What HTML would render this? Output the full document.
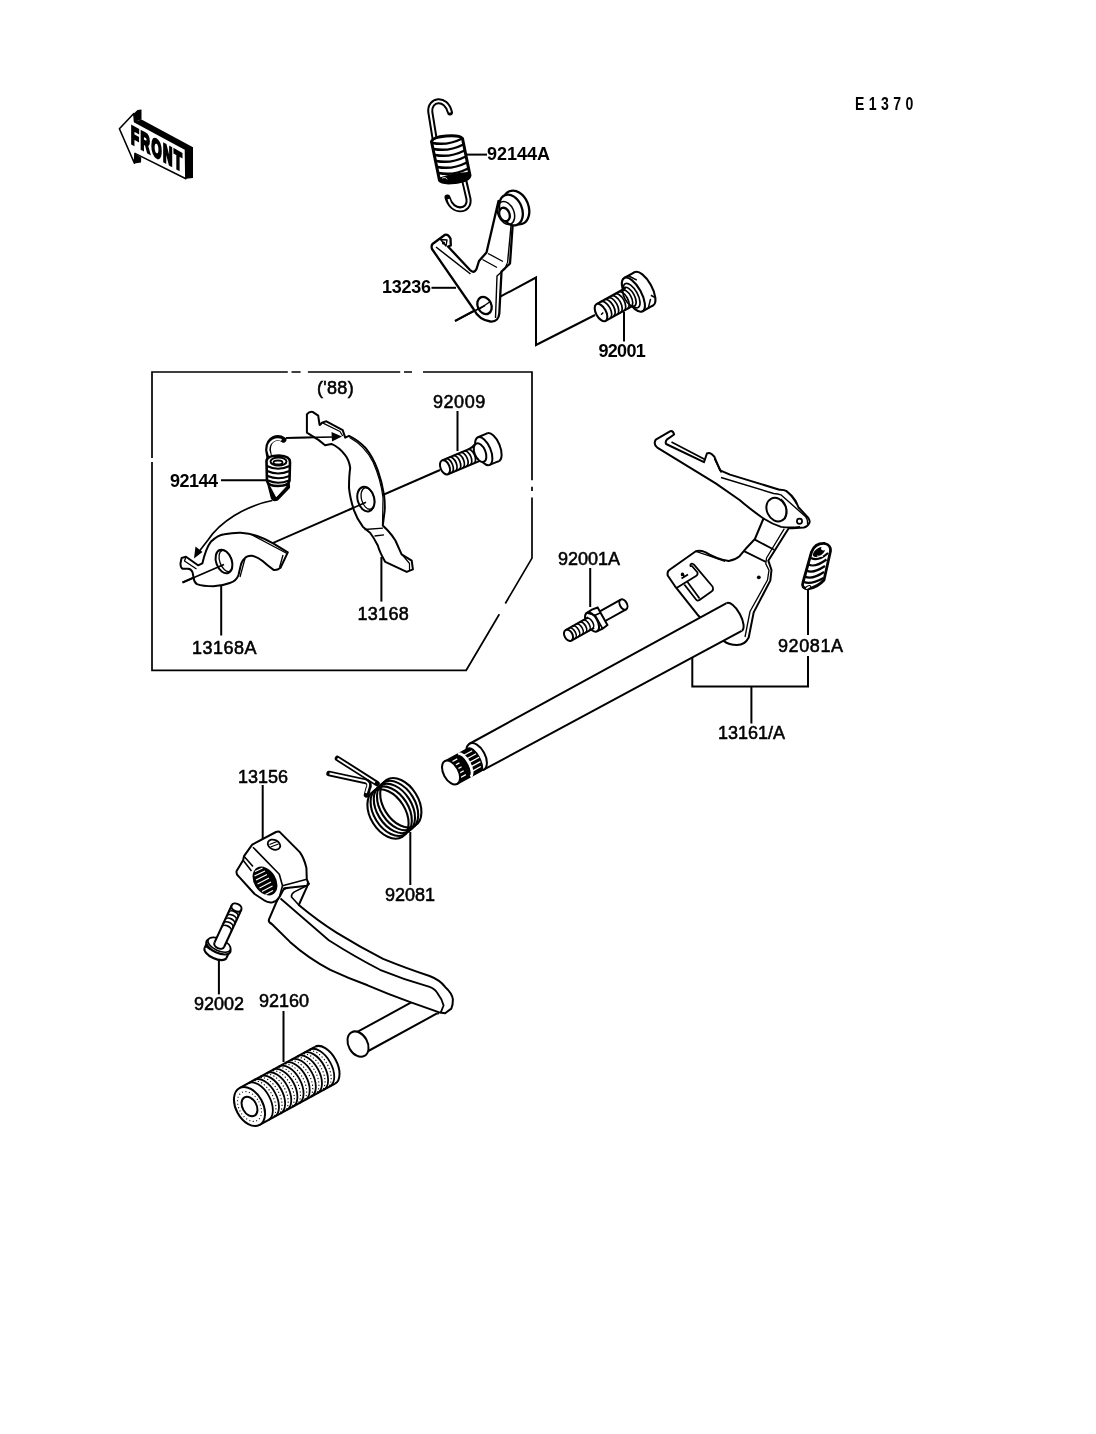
<!DOCTYPE html>
<html><head><meta charset="utf-8">
<style>
html,body{margin:0;padding:0;background:#fff;}
body{width:1096px;height:1434px;overflow:hidden;position:relative;}
svg{position:absolute;left:0;top:0;will-change:transform;}
.t{font-family:"Liberation Sans",sans-serif;font-size:18px;fill:#000;stroke:#000;stroke-width:0.55px;}
.b{font-weight:bold;stroke-width:0;}
</style></head><body>
<svg width="1096" height="1434" viewBox="0 0 1096 1434">

<g id="box" fill="none" stroke="#000" stroke-width="1.7">
<path d="M152 462V670.3H466.2L499.3 614.3M505.3 603.5L532 558.1V497.6M532 491V486.8M532 480.3V372H423M412 372H404M400.2 372H307.9M300.6 372H291.5M287.8 372H152V458"/>
</g>
<g id="leaders" fill="none" stroke="#000" stroke-width="2">
<path d="M466 154.6H487"/>
<path d="M431.5 287.8H456"/>
<path d="M624 312V341.5"/>
<path d="M455 321L536 277.5V345L595 315"/>
<path d="M457.5 411V451"/>
<path d="M221 480.3H266"/>
<path d="M381.4 557V601.6"/>
<path d="M221.2 586V635.5"/>
<path d="M182.5 582.5L440 470"/>
<path d="M590.2 568V607"/>
<path d="M808 590V635M808 656V686.5H692.3V657M751.4 686.5V723.4"/>
<path d="M262.7 785V839"/>
<path d="M410.3 832V885"/>
<path d="M218.9 958.7V994.4"/>
<path d="M283.5 1011V1062"/>
</g>
<g id="front">
<path d="M133.8 113.5L137.5 110L141.5 109.4V119.6L134.6 121.8Z" fill="#000"/>
<path d="M134.6 121.8L141.5 119.6L193 147.2V178L185.9 178.8L185.5 149.3Z" fill="#000"/>
<path d="M134.6 153.2L141.2 157.5L141 162.4L134.4 163.4Z" fill="#000"/>
<path d="M119.4 128.7L133.8 113.5L134.6 121.8L185.5 149.3L185.9 178.8L135 153.4L134.4 163.2Z" fill="#fff" stroke="#000" stroke-width="1.6" stroke-linejoin="round"/>
<text transform="translate(131,143) skewY(29) scale(0.52,1)" style="font-family:'Liberation Sans',sans-serif;font-weight:bold;font-size:25px;fill:#000;stroke:#000;stroke-width:2.8px;letter-spacing:3px">FRONT</text>
</g>
<g id="spring1" fill="none" stroke-linecap="round">
<path d="M434.5 138L430.3 112C429 99 446 96 450 112.5" stroke="#000" stroke-width="6"/>
<path d="M434.5 138L430.3 112C429 99 446 96 450 112.5" stroke="#fff" stroke-width="2" stroke-linecap="butt"/>
<path d="M462.8 174L468.5 199C470.5 212 452 214 447.5 197.5" stroke="#000" stroke-width="6"/>
<path d="M464 180L468.5 199C470.5 212 452 214 448.5 199" stroke="#fff" stroke-width="2" stroke-linecap="butt"/>
<path d="M431.5 141.5Q433 137 446 136Q460 135 462.5 138.5L470 175.5Q469 181 455 182.5Q442 184 439.5 180.5Z" fill="#fff" stroke="#000" stroke-width="3" stroke-linejoin="round"/>
<g stroke="#000" stroke-width="2.5">
<path d="M432.3 143.0Q447.3 146.0 462.3 138.5"/>
<path d="M433.6 149.0Q448.5 152.0 463.4 144.5"/>
<path d="M434.8 155.0Q449.7 158.0 464.6 150.5"/>
<path d="M436.1 161.0Q450.9 164.0 465.8 156.5"/>
<path d="M437.3 167.0Q452.1 170.0 466.9 162.5"/>
<path d="M438.6 173.0Q453.3 176.0 468.1 168.5"/>
</g>
<path d="M440 178.5Q452 174 468 173L469.5 177Q466 182 455 182.5Q443 184 440 180Z" fill="#000" stroke="#000" stroke-width="2"/>
<path d="M442.5 178Q446 176.5 447 179" stroke="#fff" stroke-width="0.9"/>
</g>
<g id="bracket" fill="#fff" stroke="#000" stroke-width="2.3" stroke-linejoin="round">
<path d="M432.5 244L445 234.8Q448 234 450.5 238.5L450.8 245.5L448 246.5L470 270Q474 274 476.5 269L479 261L486.5 252.5L498.5 201L512.6 226L510 263.5L501.5 271.5L499.3 313.5Q498.5 322 490.5 321.5Q479 320 473.5 309L432 249Q431 246 432.5 244Z"/>
<path d="M436 247L470.5 274" fill="none" stroke-width="1.5"/>
<path d="M440.5 239.5L447 240L446 246Z" fill="#fff" stroke-width="1.4"/>
<circle cx="443.5" cy="243" r="1.6" fill="#000" stroke="none"/>
<ellipse cx="516" cy="207.5" rx="12.5" ry="17.5" transform="rotate(-22 516 207.5)"/>
<ellipse cx="511" cy="210" rx="11" ry="16" transform="rotate(-22 511 210)"/>
<ellipse cx="506" cy="213" rx="8" ry="12" transform="rotate(-22 506 213)" fill="none" stroke-width="1.5"/>
<ellipse cx="504.5" cy="214.5" rx="5" ry="7" transform="rotate(-22 504.5 214.5)"/>
<path d="M507 263.5L505.3 268.5L497 276L495.5 318" fill="none" stroke-width="1.4"/>
<path d="M511 226L507.5 263.5" fill="none" stroke-width="1.4"/>
<path d="M482.5 259.5L497 267.5M488 253.5L503 261.5" fill="none" stroke-width="1.4"/>
<ellipse cx="484.5" cy="305.5" rx="6.8" ry="9" transform="rotate(-25 484.5 305.5)"/>
<path d="M478 310L491 301" fill="none" stroke-width="1.4"/>
</g>
<g id="bolt1" transform="translate(601 312.5) rotate(-28.9)" fill="#fff" stroke="#000" stroke-width="2.1">
<ellipse cx="49" cy="0" rx="8" ry="19"/>
<path d="M37 -19H49V19H37Z" stroke="none"/>
<path d="M37 -19H49M37 19H49" fill="none"/>
<ellipse cx="37" cy="0" rx="8" ry="19"/>
<ellipse cx="35" cy="0" rx="6" ry="13.5" fill="none" stroke-width="1.7"/>
<path d="M0 -9.5H33V9.5H0Z" stroke="none"/>
<path d="M0 -9.5H33.5M0 9.5H31" fill="none"/>
<ellipse cx="32.5" cy="0" rx="5" ry="10.5" fill="none" stroke-width="1.7"/>
<g fill="none" stroke-width="1.7">
<path d="M5 -9.5A5 9.5 0 0 1 5 9.5M9 -9.5A5 9.5 0 0 1 9 9.5M13 -9.5A5 9.5 0 0 1 13 9.5M17 -9.5A5 9.5 0 0 1 17 9.5M21 -9.5A5 9.5 0 0 1 21 9.5M25 -9.5A5 9.5 0 0 1 25 9.5M29 -9.5A5 9.5 0 0 1 29 9.5"/>
</g>
<ellipse cx="0" cy="0" rx="5" ry="9.5"/>
<path d="M-1 2L2 1" fill="none" stroke-width="1.4"/>
<path d="M42 -18.5L47 -11M52 9L55 14M44 18.5L50 12" fill="none" stroke-width="1.5"/>
</g>

<g id="boxparts">
<g id="arrows" fill="none" stroke="#000" stroke-width="1.7">
<path d="M286 437.8L334 437"/>
<path d="M272.3 500.5C245 506 220 522 208 540Q201 549 198 553"/>
</g>
<path d="M342 436.6L331.5 432L332 441.5Z" fill="#000"/>
<path d="M194 558.5L195.5 546.5L202.5 552Z" fill="#000"/>
<g id="spring2" fill="none" stroke-linecap="round">
<path d="M270.2 463L268 450C268 438 278 436 283.5 439.8" stroke="#000" stroke-width="5.8"/>
<path d="M270.6 458L268.3 450C268.5 440 277 438 281.5 440" stroke="#fff" stroke-width="2.1" stroke-linecap="butt"/>
<path d="M267 481L271.5 498.5Q273.5 502 277.5 500L289.5 487.5L289 480Z" fill="#000" stroke="#000" stroke-width="1.2" stroke-linejoin="round"/>
<path d="M270 485L276.3 496.8L285.8 486.5Z" fill="#fff" stroke="#fff" stroke-width="0.8" stroke-linejoin="round"/>
<path d="M266.5 461Q267 455.5 279 455.5Q290 456 290 462L289.5 481Q288 486 278 486Q268 486 267 481Z" fill="#fff" stroke="#000" stroke-width="2.6"/>
<g stroke="#000" stroke-width="2">
<path d="M267 466Q278 471.5 289.5 466"/>
<path d="M267.3 471Q278 476 289.5 471"/>
<path d="M267.6 476Q278 480.5 289.5 476"/>
<path d="M268 480.5Q278 485 289 480.5"/>
</g>
<ellipse cx="278.5" cy="461.5" rx="8" ry="4" stroke="#000" stroke-width="2"/>
<ellipse cx="278" cy="462.5" rx="4.5" ry="2" stroke="#000" stroke-width="1.8"/>
</g>
<g id="p13168A" fill="#fff" stroke="#000" stroke-width="2" stroke-linejoin="round">
<path d="M181.6 558L186 556.8L198 565.3L202.4 563.3Q206 548 211.1 541.4Q218 535 224.3 534.2Q233 532.5 240.7 532.7Q250 533.5 257.1 536Q266 539 273.6 543.6L287.8 552.4L280.5 567.7Q277 570.5 273.6 569.9Q268 566 262.6 561.1Q257 556.5 251.7 555.7Q247 555.5 245.1 557.9Q241.5 561 240.7 565.5L238.5 575Q236.5 581 229.8 583Q222 586 213.3 586.3Q203 586.3 196.9 584.1Q194 582 193.6 577.6L192.5 572.1Q191 569 188.1 568.8L182.7 568.8Q180.5 568 180.5 563.3Z"/>
<path d="M252 535L287 553.5M283 555L279.5 567.5M245 558.5L240 577" fill="none" stroke-width="1.3"/>
<path d="M186 556.8L184.5 561L196.5 569" fill="none" stroke-width="1.3"/>
<ellipse cx="224" cy="561.5" rx="7.8" ry="12.2" transform="rotate(-20 224 561.5)"/>
<ellipse cx="225.8" cy="561" rx="6" ry="11" transform="rotate(-20 225.8 561)" fill="none" stroke-width="1.3"/>
</g>
<g id="p13168" fill="#fff" stroke="#000" stroke-width="2" stroke-linejoin="round">
<path d="M306.9 414.4Q309 411.5 312.6 411.9L318.2 415.7L319.5 424.5Q320 426 322 422.6L326.4 421.3L342.7 430.1L345.2 437.6L349 435.8Q358 440 365.3 447.7Q373 457 377.8 470.3Q382 482 384.1 495.4Q385 503 384.7 510.4L382.8 525.5L387.8 530.5Q392 535 395.4 540.5L401.6 554.3L411.7 560.6L412.9 569.4L406.7 571.9L385.3 561.9Q380 553 377.8 545.5Q374 538 370.3 533L362.8 526.7Q357 519 354 510.4Q350 498 349 487.8Q349 476 350.2 467.8Q349 460 345.2 455.2Q339 447 331.4 443.9L325.1 445.2L318.8 440.1L306.9 432.6Z"/>
<path d="M349.5 437.5Q365 446 373 462Q381 480 383 498L382.5 525" fill="none" stroke-width="1.2"/>
<path d="M364.5 529.5L383 528.2M374.5 536L384 534.8" fill="none" stroke-width="1.3"/>
<path d="M402 554.5L409.5 563.5V570.5" fill="none" stroke-width="1.2"/>
<path d="M322 422.6L340 431.5L342.7 436" fill="none" stroke-width="1.2"/>
<ellipse cx="365.9" cy="499.1" rx="8.3" ry="12.5" transform="rotate(-15 365.9 499.1)"/>
<ellipse cx="367.8" cy="498.5" rx="6.3" ry="11" transform="rotate(-15 367.8 498.5)" fill="none" stroke-width="1.3"/>
</g>
<g id="bolt2" transform="translate(445 467.3) rotate(-22.7)" fill="#fff" stroke="#000" stroke-width="2">
<ellipse cx="52" cy="0" rx="7" ry="15"/>
<path d="M42 -15H52V15H42Z" stroke="none"/>
<path d="M42 -15H52M42 15H52" fill="none"/>
<ellipse cx="42" cy="0" rx="7" ry="15"/>
<path d="M0 -7.5H30L38 -9.5V9.5H0Z" stroke="none"/>
<path d="M0 -7.5H29Q33 -7.5 36 -9.5M0 7.5H36" fill="none"/>
<ellipse cx="38" cy="0" rx="5.5" ry="9.8"/>
<g fill="none" stroke-width="1.7">
<path d="M4 -7.5A4 7.5 0 0 1 4 7.5M8 -7.5A4 7.5 0 0 1 8 7.5M12 -7.5A4 7.5 0 0 1 12 7.5M16 -7.5A4 7.5 0 0 1 16 7.5M20 -7.5A4 7.5 0 0 1 20 7.5M24 -7.5A4 7.5 0 0 1 24 7.5M28 -7.5A4 7.5 0 0 1 28 7.5"/>
</g>
<ellipse cx="0" cy="0" rx="4.5" ry="7.5"/>
</g>
</g>

<g id="shaftasm">
<g id="lever" fill="#fff" stroke="#000" stroke-width="2" stroke-linejoin="round">
<path d="M655.8 439.6L670.4 431.2Q673 430.5 674.1 434.5L666.8 439.6Q665 442 666.1 444L704 462.2L706.9 453.5Q709 452.5 711.3 453.8L714.2 456.4L720.1 470.3L730 474.6L779.4 489.7Q784 489.5 786.7 491.2Q792 495 795.5 500.7L798.4 507.2L807.9 517.4Q810.5 521 809.3 523Q808 526.5 804 527.5L792.2 528.2H788.7L768.3 560.7L771.5 570L770.3 580.6L753.7 612.4L748.7 637.5Q745 645 737 645.1Q729 645 723.6 640.9L698.5 615.8L674.7 585.8L667.7 575.5Q667 571 669.6 569.8L695.8 551.3Q700 550 705.2 552.2Q716 559 728.6 561Q735 560 739.6 556.2Q746 548 754.9 539L763.5 518.5Q750 509 739.6 500L715.7 483.4L657.3 447.6Q653 444 655.8 439.6Z"/>
<path d="M671.5 442L705 459.5M714.5 458.5L721.5 472.5" fill="none" stroke-width="1.7"/>
<path d="M784.3 528.7L766.5 558L765.8 563.9L769 570.2L767.5 580L750 611.5L745 637" fill="none" stroke-width="1.3"/>
<path d="M763.5 518.5Q772 524 781.1 526.8Q790 528 800 526.8" fill="none" stroke-width="1.8"/>
<path d="M695.8 551.3Q712 556.5 725 561.5" fill="none" stroke-width="1.3"/>
<path d="M721 477.5L773.6 493.5Q778 494 780.9 494.8L805.7 516.7Q808 519.5 807.5 524.5M786.7 491.6Q792 495.5 796.5 504" fill="none" stroke-width="1.4"/>
<path d="M754.9 539.6L774.1 549.8M744 551.1L765.8 561.9" fill="none" stroke-width="1.8"/>
<ellipse cx="776.5" cy="509.6" rx="9.6" ry="12.2" transform="rotate(-25 776.5 509.6)"/>
<path d="M781 499Q789 506 785 519" fill="none" stroke-width="1.4"/>
<circle cx="799.5" cy="521.3" r="2.6" stroke-width="1.7"/>
<circle cx="758.8" cy="577.3" r="1.9" fill="#000" stroke="none"/>
<g fill="none" stroke-width="1.8">
<path d="M691.5 565.5L697.5 572.5Q698 575 696 576L676.5 588"/>
<path d="M694 564.7Q692 562.5 690.5 564.5Q690 567 691.5 565.5M694 564.7L712.5 586.5Q714 590 711.5 591.5L699.5 600Q697.5 601.5 696 599.5L684.3 584.5"/>
<path d="M687.5 582L699.6 598.5"/>
<path d="M681.5 578.5L688 574.5M682 576Q681 573 683 573.5L684 577"/>
</g>
</g>
<g id="shaft" transform="translate(473 758.5) rotate(-28.68)" stroke="#000" stroke-width="2">
<path d="M3 -14.6H297V17L3 15Z" fill="#fff" stroke="none"/>
<path d="M3 -14.6H297M3 15L297 17" fill="none"/>
<path d="M297 -14.6A6.5 15.8 0 0 1 297 17" fill="#fff"/>
<ellipse cx="4" cy="0.2" rx="8.5" ry="14.8" fill="#fff"/>
<g transform="translate(0 1.8)">
<path d="M-26 -13H1A5 13 0 0 1 1 13H-26Z" fill="#000" stroke-width="1.5"/>
<g stroke="#fff" stroke-width="1.3">
<path d="M-21 -9H-14M-21 -4.5H-14M-21 0H-14M-21 4.5H-14M-21 9H-14"/>
<path d="M-7 -9H3M-7 -4.5H5M-7 0H6M-7 4.5H5M-7 9H3"/>
</g>
<path d="M-11 -13A5.5 13 0 0 1 -11 13" fill="none" stroke="#fff" stroke-width="2.8"/>
<ellipse cx="-26" cy="0" rx="7.5" ry="13" fill="#fff"/>
</g>
</g>
<g id="stud" transform="translate(568.5 635.3) rotate(-29.3)" fill="#fff" stroke="#000" stroke-width="2">
<path d="M38 -5.5H63V5.5H38Z" stroke="none"/>
<path d="M38 -5.5H63M38 5.5H63" fill="none"/>
<ellipse cx="63" cy="0" rx="3.5" ry="5.5"/>
<path d="M27 -10.5L33 -11L39 -10V10L33 11L27 10.5Z" stroke-width="2"/>
<ellipse cx="27" cy="0" rx="5.5" ry="10.5"/>
<path d="M27 -10.5L33 -4.5L33 11M33 -4.5L39 -4" fill="none" stroke-width="1.6"/>
<path d="M0 -6H26V6H0Z" stroke="none"/>
<path d="M0 -6H26M0 6H26" fill="none"/>
<g fill="none" stroke-width="1.6">
<path d="M4 -6A3.5 6 0 0 1 4 6M8 -6A3.5 6 0 0 1 8 6M12 -6A3.5 6 0 0 1 12 6M16 -6A3.5 6 0 0 1 16 6M20 -6A3.5 6 0 0 1 20 6M24 -6A3.5 6 0 0 1 24 6"/>
</g>
<ellipse cx="0" cy="0" rx="4" ry="6"/>
</g>
<g id="spring3">
<path d="M811.5 552Q815 543 824.7 543.5Q831 545 830.5 551L824 580Q818 587 808 589Q801 588 802.8 583Z" fill="#fff" stroke="#000" stroke-width="2.8" stroke-linejoin="round"/>
<g fill="none" stroke="#000" stroke-width="2.2">
<path d="M811 558Q818 562 828 553"/>
<path d="M808.5 564.5Q815 568 826.5 559.5"/>
<path d="M806.5 570.5Q813 574 825 566"/>
<path d="M805 576.5Q812 580 824 572"/>
<path d="M804 582Q811 585 823.5 578"/>
</g>
<ellipse cx="819" cy="552" rx="7" ry="3.8" transform="rotate(-35 819 552)" fill="#000"/>
<ellipse cx="823.5" cy="548.5" rx="2.5" ry="2" fill="#fff"/>
<path d="M817 556L823 556.5" stroke="#fff" stroke-width="0.8"/>
<ellipse cx="808" cy="587.5" rx="3" ry="1.5" transform="rotate(-30 808 587.5)" fill="#fff" stroke="#000" stroke-width="1"/>
</g>
</g>

<g id="lowerparts">
<g id="torsion" fill="none">
<g stroke="#000" stroke-width="2.1">
<ellipse cx="388.0" cy="814.0" rx="27" ry="17.5" transform="rotate(58 388.0 814.0)"/>
<ellipse cx="391.2" cy="811.2" rx="27" ry="17.5" transform="rotate(58 391.2 811.2)"/>
<ellipse cx="394.4" cy="808.4" rx="27" ry="17.5" transform="rotate(58 394.4 808.4)"/>
<ellipse cx="397.6" cy="805.6" rx="27" ry="17.5" transform="rotate(58 397.6 805.6)"/>
<ellipse cx="400.8" cy="802.8" rx="27" ry="17.5" transform="rotate(58 400.8 802.8)"/>
</g>
<g stroke-linecap="round" stroke-linejoin="round">
<path d="M337.5 758.5L377 783.5" stroke="#000" stroke-width="5.5"/>
<path d="M337.5 758.5L375 782.5" stroke="#fff" stroke-width="1.9" stroke-linecap="butt"/>
<path d="M329 773.5L366 781.5Q371 783 368 789L366.5 795" stroke="#000" stroke-width="5.5"/>
<path d="M329.5 773.5L365.5 781.3Q370 783 367.2 789L366 793" stroke="#fff" stroke-width="1.9" stroke-linecap="butt"/>
</g>
</g>
<g id="pedal" fill="#fff" stroke="#000" stroke-width="2" stroke-linejoin="round">
<g transform="translate(358 1044.1) rotate(-28.68)">
<path d="M0 -11H86V11H0Z" stroke="none"/>
<path d="M0 -11H86M0 11H84" fill="none"/>
<path d="M84 -12A4 12 0 0 1 84 12" fill="none" stroke-width="1.6"/>
<ellipse cx="0" cy="0" rx="9.5" ry="13.5"/>
</g>

<path d="M282 890L306.1 879.5L309 883.9L307.6 885.3L298.8 905Q318 921 336.5 932.6Q360 947 383.1 958.9Q408 969 429.6 976Q440 980 445.1 986.9Q452 993 452.9 999.3Q453 1005 451.3 1008.6L445.1 1013.2L439.9 1012.6L411 1002.4Q388 994 367.6 985.3Q348 978 330.3 969.8Q308 958 290 941.9L271.8 924Q268 922 268.9 919.6L276 903Z"/>
<path d="M280.5 898.5L328.8 940.3Q355 957 380 969.8Q405 980 429.6 986.9Q435 989 437.4 993.1Q442 999 443.6 1005.5L440.5 1013.2" fill="none" stroke-width="1.8"/>
<path d="M307.6 885.3L294.4 891.9Q291 894 291.5 897L298.8 905" fill="none" stroke-width="1.6"/>
<path d="M252.2 844.7L276 832Q279 831 280.1 832.4L299.8 852.1Q304 858 306.4 867.7L306.8 879.2L308 882.5L307.2 885.8L284.2 888.2L279.3 897.2Q277 901 272.7 902.2Q268 903 264.5 900.5L254.6 894L238.2 875.9Q236 874 236.6 871L243.1 860.3L244 856.2Z"/>
<path d="M253 847.2L279.3 874.3L282.5 885.8L279.3 897.2" fill="none" stroke-width="1.6"/>
<path d="M282.5 885.8L306.8 879.2" fill="none" stroke-width="1.6"/>
<path d="M244 856.2L253 866.5M243.1 860.3L251.5 871" fill="none" stroke-width="1.6"/>
<ellipse cx="265" cy="881" rx="14.5" ry="10" transform="rotate(58 265 881)" fill="#000"/>
<g stroke="#fff" stroke-width="1.2" fill="none">
<path d="M255 871.5L262.5 868M254.5 876L265 871M256 880L267 874.5M257.5 884L269 878M259.5 888L271 882M262 891.5L272.5 886M265.5 894.5L273 890.5"/>
</g>
<ellipse cx="274" cy="844.7" rx="6.5" ry="4.8" transform="rotate(25 274 844.7)" stroke-width="1.8"/>
<path d="M269.5 844.5L277 841.5M270.5 847L278.5 844" fill="none" stroke-width="1.2"/>
</g>
<g id="bolt3" transform="translate(215.5 953) rotate(-65.2)" fill="#fff" stroke="#000" stroke-width="2.1">
<path d="M0 -12H7V12H0Z" stroke="none"/>
<path d="M0 -12H7M0 12H7" fill="none"/>
<path d="M0 -12A5.5 12 0 0 0 0 12" fill="#fff"/>
<path d="M1 -6L2 -12M3 7L4 12" fill="none" stroke-width="1.5"/>
<ellipse cx="7" cy="0" rx="6.2" ry="13"/>
<ellipse cx="9" cy="0" rx="6" ry="12.2" stroke-width="1.6"/>
<path d="M9 -5.3H50V5.3H9Z" stroke="none"/>
<path d="M9 -5.3H50M9 5.3H50" fill="none"/>
<path d="M9 -5.3A3.6 5.3 0 0 0 9 5.3" fill="none"/>
<g fill="none" stroke-width="1.7">
<path d="M26 -5.3A3.6 5.3 0 0 1 26 5.3M30 -5.3A3.6 5.3 0 0 1 30 5.3M34 -5.3A3.6 5.3 0 0 1 34 5.3M38 -5.3A3.6 5.3 0 0 1 38 5.3M42 -5.3A3.6 5.3 0 0 1 42 5.3M46 -5.3A3.6 5.3 0 0 1 46 5.3"/>
</g>
<ellipse cx="50" cy="0" rx="3.8" ry="5.3"/>
</g>
<g id="rubber" transform="translate(249.5 1106.5) rotate(-28.68)" fill="#fff" stroke="#000" stroke-width="2">
<path d="M0 -21H86V21H0Z" stroke="none"/>
<path d="M0 -21H86M0 21H86" fill="none"/>
<path d="M86 -21A12 21 0 0 1 86 21" fill="none"/>
<g fill="none" stroke-width="1.8">
<path d="M10 -21A12 21 0 0 1 10 21M17 -21A12 21 0 0 1 17 21M24 -21A12 21 0 0 1 24 21M31 -21A12 21 0 0 1 31 21M38 -21A12 21 0 0 1 38 21M45 -21A12 21 0 0 1 45 21M52 -21A12 21 0 0 1 52 21M59 -21A12 21 0 0 1 59 21M66 -21A12 21 0 0 1 66 21M73 -21A12 21 0 0 1 73 21M80 -21A12 21 0 0 1 80 21"/>
</g>
<g fill="none" stroke-width="1.1" stroke-dasharray="1.2 2.2">
<path d="M13.5 -21A12 21 0 0 1 13.5 21M20.5 -21A12 21 0 0 1 20.5 21M27.5 -21A12 21 0 0 1 27.5 21M34.5 -21A12 21 0 0 1 34.5 21M41.5 -21A12 21 0 0 1 41.5 21M48.5 -21A12 21 0 0 1 48.5 21M55.5 -21A12 21 0 0 1 55.5 21M62.5 -21A12 21 0 0 1 62.5 21M69.5 -21A12 21 0 0 1 69.5 21M76.5 -21A12 21 0 0 1 76.5 21"/>
</g>
<ellipse cx="0" cy="0" rx="13.5" ry="21"/>
<ellipse cx="0" cy="0" rx="7" ry="10.5"/>
<g fill="none" stroke-width="1.1" stroke-dasharray="1 2.5">
<ellipse cx="0" cy="0" rx="10.5" ry="16"/>
</g>
</g>
</g>
<g id="overlay" fill="none" stroke="#000" stroke-width="1.7">
<path d="M286 437.8L334 437"/>
<path d="M182.5 582.5L224 564.5"/>
<path d="M349 509.7L366 502.3"/>
<path d="M455 321L485 305.5"/>
</g>
<path d="M342 436.6L331.5 432L332 441.5Z" fill="#000"/>
<g id="labels">
<text class="t b" x="487" y="160">92144A</text>
<text class="t b" x="382" y="293" letter-spacing="-0.25">13236</text>
<text class="t b" x="598.5" y="357" letter-spacing="-0.7">92001</text>
<text class="t" x="317" y="394" letter-spacing="0.3">('88)</text>
<text class="t" x="433" y="408" letter-spacing="0.55">92009</text>
<text class="t b" x="170" y="487.3" letter-spacing="-0.5">92144</text>
<text class="t" x="357.5" y="620" letter-spacing="0.3">13168</text>
<text class="t" x="192" y="654" letter-spacing="0.5">13168A</text>
<text class="t" x="558" y="565">92001A</text>
<text class="t" x="778" y="651.5" letter-spacing="0.6">92081A</text>
<text class="t" x="718" y="739">13161/A</text>
<text class="t" x="238" y="783">13156</text>
<text class="t" x="385" y="901">92081</text>
<text class="t" x="194" y="1010">92002</text>
<text class="t" x="259" y="1007">92160</text>
<text transform="translate(855 109.6) scale(0.78 1)" style="font-family:'Liberation Sans',sans-serif;font-size:18px;font-weight:bold;letter-spacing:5.7px;fill:#000">E1370</text>
</g>
</svg>
</body></html>
